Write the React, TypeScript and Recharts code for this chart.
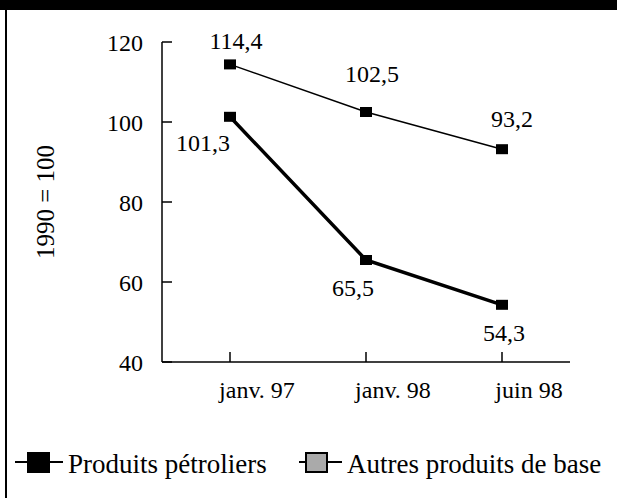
import React from 'react';
import { LineChart, Line, XAxis, YAxis, LabelList } from 'recharts';

const months = ['janv. 97', 'janv. 98', 'juin 98'];
const petroleValues = [101.3, 65.5, 54.3];
const autresValues = [114.4, 102.5, 93.2];
const yTicks = [40, 60, 80, 100, 120];
const seriesNames = ['Produits pétroliers', 'Autres produits de base'];

const data = months.map((m, i) => ({
  month: m,
  petrole: petroleValues[i],
  autres: autresValues[i]
}));

// label offsets (dx, dy) from each point, per series
const PETROLE_OFFSETS = [[-27, 26], [-13, 28], [2, 28]];
const AUTRES_OFFSETS = [[6, -24], [6, -38], [10, -30]];

const SERIF = '"Liberation Serif", "Times New Roman", serif';

const fmt = (v: number) => String(v).replace('.', ',');

const SquareDot = ({ cx, cy }: any) => (
  <rect x={cx - 6} y={cy - 5} width={12} height={10} fill="#000" />
);

const makeLabel = (offsets: number[][]) => (props: any) => {
  const { x, y, value, index } = props;
  const [dx, dy] = offsets[index];
  return (
    <text
      x={x + dx}
      y={y + dy}
      dy="0.34em"
      textAnchor="middle"
      fontFamily={SERIF}
      fontSize={24}
      fill="#000"
    >
      {fmt(value)}
    </text>
  );
};

const XTick = ({ x, y, payload }: any) => (
  <text x={x + 27} y={y} dy={26} textAnchor="middle" fontFamily={SERIF} fontSize={24} fill="#000">
    {payload.value}
  </text>
);

const YTick = ({ x, y, payload }: any) => (
  <text x={x} y={y} dy="0.36em" textAnchor="end" fontFamily={SERIF} fontSize={24} fill="#000">
    {payload.value}
  </text>
);

export default function App() {
  return (
    <div style={{ position: 'absolute', left: 0, top: 0, width: 617, height: 498, background: '#fff', overflow: 'hidden' }}>
      {/* frame bits */}
      <div style={{ position: 'absolute', left: 0, top: 0, width: 617, height: 10, background: '#000' }} />
      <div style={{ position: 'absolute', left: 5, top: 0, width: 2, height: 498, background: '#000' }} />

      <LineChart
        width={617}
        height={498}
        data={data}
        margin={{ top: 42, right: 47, bottom: 76, left: 0 }}
      >
        <XAxis
          dataKey="month"
          height={60}
          padding={{ left: 68, right: 68 }}
          axisLine={{ stroke: '#000', strokeWidth: 1.5 }}
          tickLine={{ stroke: '#000', strokeWidth: 1.5 }}
          tickSize={-10}
          tickMargin={20}
          tick={<XTick />}
        />
        <YAxis
          width={162}
          domain={[40, 120]}
          ticks={yTicks}
          interval={0}
          axisLine={{ stroke: '#000', strokeWidth: 1.5 }}
          tickLine={{ stroke: '#000', strokeWidth: 1.5 }}
          tickSize={-10}
          tickMargin={29}
          tick={<YTick />}
          label={{
            value: '1990 = 100',
            angle: -90,
            position: 'insideLeft',
            offset: 45,
            style: { textAnchor: 'middle', fontFamily: SERIF, fontSize: 25, fill: '#000' }
          }}
        />
        <Line
          dataKey="autres"
          name={seriesNames[1]}
          stroke="#000"
          strokeWidth={1.5}
          dot={<SquareDot />}
          activeDot={false}
          isAnimationActive={false}
        >
          <LabelList dataKey="autres" content={makeLabel(AUTRES_OFFSETS)} />
        </Line>
        <Line
          dataKey="petrole"
          name={seriesNames[0]}
          stroke="#000"
          strokeWidth={3.5}
          dot={<SquareDot />}
          activeDot={false}
          isAnimationActive={false}
        >
          <LabelList dataKey="petrole" content={makeLabel(PETROLE_OFFSETS)} />
        </Line>
      </LineChart>

      {/* legend */}
      <svg style={{ position: 'absolute', left: 0, top: 440 }} width={617} height={45}>
        <line x1={15} y1={22} x2={63} y2={22} stroke="#000" strokeWidth={2} />
        <rect x={27} y={12} width={23} height={21} fill="#000" />
        <text x={68} y={33} fontFamily={SERIF} fontSize={27} fill="#000">{seriesNames[0]}</text>
        <line x1={299} y1={22} x2={342} y2={22} stroke="#000" strokeWidth={2} />
        <rect x={306} y={13} width={21} height={19} fill="#aaa" stroke="#000" strokeWidth={2} />
        <text x={347} y={33} fontFamily={SERIF} fontSize={27} fill="#000">{seriesNames[1]}</text>
      </svg>
    </div>
  );
}
